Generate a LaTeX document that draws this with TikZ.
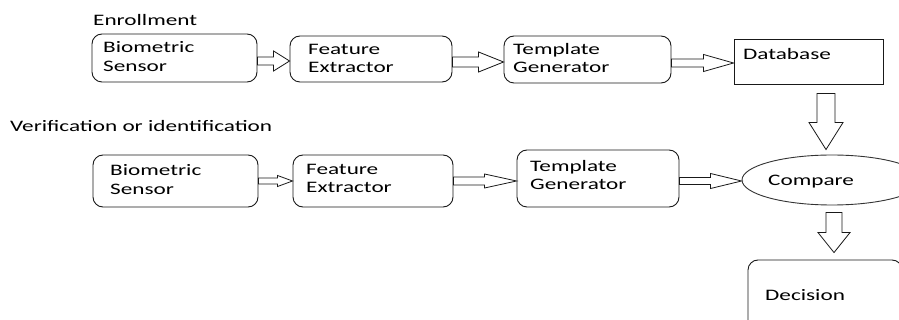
\documentclass[tikz,border=0pt]{standalone}
\usepackage{fontspec}
\setmainfont{Carlito}[FakeStretch=1.45]
\usetikzlibrary{calc,shapes.geometric}
\tikzset{
  rbox/.style={draw=black!90, line width=0.9pt, rounded corners=10pt, inner sep=0pt},
  sbox/.style={draw=black!90, line width=0.9pt, inner sep=0pt},
  ebox/.style={draw=black!80, line width=0.9pt, ellipse, inner sep=0pt},
  txt/.style={anchor=base west, inner sep=0pt, font=\fontsize{16}{19}\selectfont, text=black},
  harrow/.style n args={3}{draw=black!90, line width=0.8pt, fill=white,
    to path={let \p1=(\tikztostart), \p2=(\tikztotarget) in
      (\x1,\y1+#1pt) -- (\x2-#3pt,\y1+#1pt) -- (\x2-#3pt,\y1+#2pt) -- (\x2,\y1)
      -- (\x2-#3pt,\y1-#2pt) -- (\x2-#3pt,\y1-#1pt) -- (\x1,\y1-#1pt) -- cycle}},
  varrow/.style n args={3}{draw=black!90, line width=0.8pt, fill=white,
    to path={let \p1=(\tikztostart), \p2=(\tikztotarget) in
      (\x1-#1pt,\y1) -- (\x1-#1pt,\y2+#3pt) -- (\x1-#2pt,\y2+#3pt) -- (\x1,\y2)
      -- (\x1+#2pt,\y2+#3pt) -- (\x1+#1pt,\y2+#3pt) -- (\x1+#1pt,\y1) -- cycle}}
}
\begin{document}
\begin{tikzpicture}[x=1pt,y=-1pt]
\useasboundingbox (0,0) rectangle (899,320);
\fill[white] (0,0) rectangle (899,320);
\clip (0,0) rectangle (899,320);

% ---- Enrollment row
\node[txt] (tEnr) at (93,26) {Enrollment};
\node[rbox, minimum width=165pt, minimum height=48pt] (E1) at (174.5,58) {};
\node[rbox, minimum width=162pt, minimum height=46pt] (E2) at (371,59) {};
\node[rbox, minimum width=167pt, minimum height=47pt] (E3) at (587.5,59.5) {};
\node[sbox, minimum width=149pt, minimum height=45pt] (DB) at (808.5,61.5) {};

\node[txt] (tE1a) at (103,53) {Biometric};
\node[txt] (tE1b) at (103,72) {Sensor};
\node[txt] (tE2a) at (308,55) {Feature};
\node[txt] (tE2b) at (308,73) {Extractor};
\node[txt] (tE3a) at (513,55) {Template};
\node[txt] (tE3b) at (513,73) {Generator};
\node[txt] (tDB) at (743,60) {Database};

\draw[harrow={4}{10}{16}] (E1.east |- 0,61) to (E2.west |- 0,61);
\draw[harrow={5}{10}{25}] (E2.east |- 0,62) to (E3.west |- 0,62);
\draw[harrow={4}{8.5}{30}] (E3.east |- 0,63) to (DB.west |- 0,63);

% ---- Verification row
\node[txt] (tVer) at (10,132) {Verification or identification};
\node[rbox, minimum width=165pt, minimum height=52pt] (V1) at (175.5,181) {};
\node[rbox, minimum width=160pt, minimum height=52pt] (V2) at (373,181) {};
\node[rbox, minimum width=162pt, minimum height=57pt] (V3) at (598,178.5) {};
\node[ebox, minimum width=180pt, minimum height=50pt] (CMP) at (832,180) {};
\node[rbox, minimum width=154pt, minimum height=80pt] (DEC) at (825,300) {};

\node[txt] (tV1a) at (110,176) {Biometric};
\node[txt] (tV1b) at (110,195) {Sensor};
\node[txt] (tV2a) at (306,175) {Feature};
\node[txt] (tV2b) at (306,193) {Extractor};
\node[txt] (tV3a) at (530,172) {Template};
\node[txt] (tV3b) at (530,190) {Generator};
\node[txt] (tCmp) at (768,186) {Compare};
\node[txt] (tDec) at (765,301) {Decision};

\draw[harrow={3}{5.5}{15}] (V1.east |- 0,181) to (V2.west |- 0,181);
\draw[harrow={4}{7}{32}] (V2.east |- 0,181) to (V3.west |- 0,181);
\draw[harrow={3.5}{7.5}{31}] (V3.east |- 0,181) to (CMP.west |- 0,181);

\draw[varrow={9}{17}{27}] ($(DB.south)+(17.5,9)$) to ($(CMP.north)+(-6,-5)$);
\draw[varrow={8}{16}{20}] ($(CMP.south)+(2,7)$) to ($(DEC.north)+(9,-7)$);
\end{tikzpicture}
\end{document}
